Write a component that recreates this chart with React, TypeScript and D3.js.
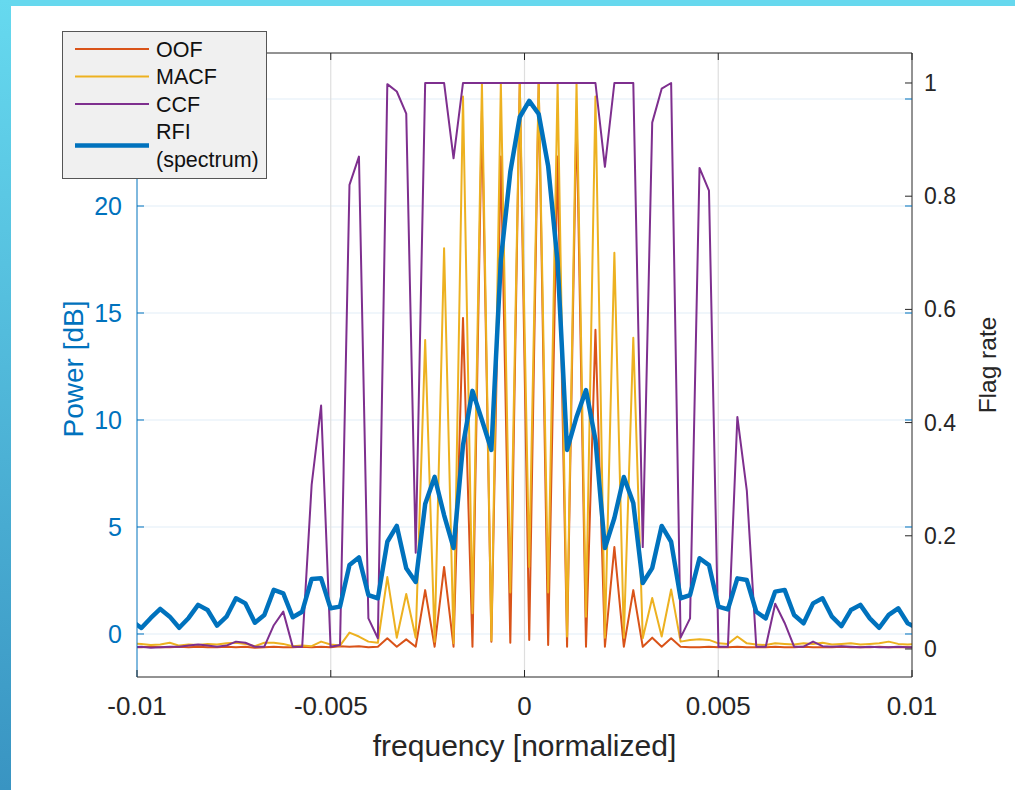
import React from 'react';
import * as d3 from 'd3';

// FFT bins (N = 4096), plotted at bin centres
const fftSize = 4096;
const bins = d3.range(-42, 42);
const freq = bins.map(k => (k + 0.5) / fftSize);

// RFI spectrum, dB (left axis)
const rfiDb = [
  0.61, 0.28, 0.75, 1.17, 0.81, 0.29, 0.75, 1.36, 1.12, 0.39, 0.81, 1.67, 1.43, 0.53,
  0.89, 2.06, 1.90, 0.78, 1.04, 2.57, 2.60, 1.20, 1.28, 3.22, 3.58, 1.82, 1.67, 4.31,
  5.05, 3.07, 2.43, 6.07, 7.34, 5.56, 4.02, 8.83, 11.36, 10.0, 8.60, 17.48, 21.59, 24.16,
  24.91, 24.30, 21.87, 17.38, 8.60, 10.14, 11.40, 9.07, 4.02, 5.42, 7.34, 6.12, 2.38, 3.08,
  5.05, 4.31, 1.67, 1.82, 3.54, 3.22, 1.28, 1.15, 2.60, 2.52, 1.04, 0.73, 1.98, 2.06,
  0.89, 0.50, 1.43, 1.67, 0.81, 0.37, 1.12, 1.36, 0.73, 0.29, 0.89, 1.20, 0.50, 0.28,
];

// flag rates (right axis)
const oofRate = [
  0.003, 0.003, 0.004, 0.003, 0.003, 0.004, 0.003, 0.004, 0.003, 0.003, 0.004, 0.003, 0.004, 0.002,
  0.003, 0.004, 0.003, 0.003, 0.004, 0.003, 0.004, 0.003, 0.005, 0.004, 0.005, 0.003, 0.004, 0.019,
  0.004, 0.017, 0.004, 0.104, 0.004, 0.145, 0.004, 0.585, 0.004, 0.95, 0.013, 0.87, 0.011, 1.0,
  0.016, 1.0, 0.007, 0.87, 0.004, 0.95, 0.004, 0.564, 0.004, 0.18, 0.004, 0.104, 0.004, 0.020,
  0.004, 0.019, 0.004, 0.003, 0.003, 0.004, 0.003, 0.003, 0.004, 0.003, 0.003, 0.003, 0.004, 0.003,
  0.003, 0.004, 0.003, 0.003, 0.003, 0.004, 0.003, 0.003, 0.003, 0.004, 0.003, 0.003, 0.003, 0.003,
];
const macfRate = [
  0.010, 0.009, 0.007, 0.008, 0.011, 0.006, 0.008, 0.007, 0.009, 0.008, 0.010, 0.011, 0.009, 0.005,
  0.011, 0.011, 0.009, 0.005, 0.006, 0.005, 0.013, 0.008, 0.006, 0.029, 0.022, 0.013, 0.011, 0.127,
  0.020, 0.097, 0.020, 0.546, 0.013, 0.708, 0.010, 0.976, 0.063, 1.0, 0.015, 1.0, 0.100, 1.0,
  0.145, 1.0, 0.100, 1.0, 0.022, 1.0, 0.057, 0.976, 0.020, 0.700, 0.020, 0.550, 0.019, 0.090,
  0.022, 0.105, 0.013, 0.016, 0.017, 0.016, 0.010, 0.009, 0.022, 0.010, 0.008, 0.007, 0.010, 0.009,
  0.008, 0.010, 0.009, 0.011, 0.008, 0.009, 0.010, 0.008, 0.009, 0.010, 0.013, 0.009, 0.008, 0.009,
];
const ccfRate = [
  0.003, 0.004, 0.002, 0.003, 0.004, 0.004, 0.006, 0.008, 0.006, 0.004, 0.006, 0.013, 0.011, 0.004,
  0.004, 0.042, 0.066, 0.004, 0.004, 0.29, 0.43, 0.004, 0.007, 0.82, 0.87, 0.054, 0.019, 0.998,
  0.985, 0.946, 0.17, 1.0, 1.0, 1.0, 0.867, 1.0, 1.0, 1.0, 1.0, 1.0, 1.0, 1.0,
  1.0, 1.0, 1.0, 1.0, 1.0, 1.0, 1.0, 1.0, 0.852, 1.0, 1.0, 1.0, 0.18, 0.93,
  0.99, 1.0, 0.02, 0.054, 0.85, 0.81, 0.004, 0.004, 0.41, 0.28, 0.004, 0.004, 0.08, 0.046,
  0.004, 0.004, 0.013, 0.005, 0.004, 0.005, 0.004, 0.003, 0.004, 0.003, 0.003, 0.004, 0.003, 0.003,
];

const xTicks = [-0.01, -0.005, 0, 0.005, 0.01];
const xTickLabels = ['-0.01', '-0.005', '0', '0.005', '0.01'];
const powerTicks = [0, 5, 10, 15, 20, 25];
const rateTicks = [0, 0.2, 0.4, 0.6, 0.8, 1];
const rateTickLabels = ['0', '0.2', '0.4', '0.6', '0.8', '1'];

const legendItems = [
  { name: ['OOF'], color: '#D95319', width: 2 },
  { name: ['MACF'], color: '#EDB120', width: 2 },
  { name: ['CCF'], color: '#7E2F8E', width: 2 },
  { name: ['RFI', '(spectrum)'], color: '#0072BD', width: 4.5 },
];

const font = "'Liberation Sans', Arial, Helvetica, sans-serif";
const blue = '#0072BD';
const dark = '#262626';

export default function App() {
  const W = 1015, H = 790;
  const m = { left: 137, right: 912, top: 53, bottom: 677 };

  const x = d3.scaleLinear().domain([-0.01, 0.01]).range([m.left, m.right]);
  const yL = d3.scaleLinear().domain([-2.01, 27.15]).range([m.bottom, m.top]);
  const yR = d3.scaleLinear().domain([-0.0495, 1.053]).range([m.bottom, m.top]);

  const lineL = d3.line<number>().x((_, i) => x(freq[i])).y(d => yL(d));
  const lineR = d3.line<number>().x((_, i) => x(freq[i])).y(d => yR(d));
  const tickLen = 7;

  return (
    <div style={{ position: 'absolute', left: 0, top: 0 }}>
      <svg width={W} height={H} style={{ display: 'block', background: '#fff' }} fontFamily={font}>
        <defs>
          <linearGradient id="edge" x1="0" y1="0" x2="0" y2="1">
            <stop offset="0" stopColor="#66d9ef" />
            <stop offset="1" stopColor="#3994c2" />
          </linearGradient>
          <clipPath id="plot">
            <rect x={m.left} y={m.top} width={m.right - m.left} height={m.bottom - m.top} />
          </clipPath>
        </defs>
        <rect x={0} y={0} width={W} height={6} fill="#66d8ee" />
        <rect x={0} y={0} width={11} height={H} fill="url(#edge)" />

        {/* grid */}
        {powerTicks.map(t => (
          <line key={'gy' + t} x1={m.left} x2={m.right} y1={yL(t)} y2={yL(t)} stroke="#e1edf7" strokeWidth={1.2} />
        ))}
        {xTicks.slice(1, -1).map(t => (
          <line key={'gx' + t} x1={x(t)} x2={x(t)} y1={m.top} y2={m.bottom} stroke="#dedede" strokeWidth={1.2} />
        ))}

        {/* series */}
        <g clipPath="url(#plot)" fill="none" strokeLinejoin="round">
          <path d={lineR(oofRate) || ''} stroke="#D95319" strokeWidth={2} />
          <path d={lineR(macfRate) || ''} stroke="#EDB120" strokeWidth={2} />
          <path d={lineR(ccfRate) || ''} stroke="#7E2F8E" strokeWidth={2} />
          <path d={lineL(rfiDb) || ''} stroke={blue} strokeWidth={4.5} />
        </g>

        {/* axes box */}
        <line x1={m.left} x2={m.right} y1={m.top} y2={m.top} stroke={dark} strokeWidth={1} />
        <line x1={m.left} x2={m.right} y1={m.bottom} y2={m.bottom} stroke={dark} strokeWidth={1} />
        <line x1={m.left} x2={m.left} y1={m.top} y2={m.bottom} stroke={blue} strokeWidth={1} />
        <line x1={m.right} x2={m.right} y1={m.top} y2={m.bottom} stroke={dark} strokeWidth={1} />

        {/* x ticks */}
        {xTicks.map((t, i) => (
          <g key={'xt' + t}>
            <line x1={x(t)} x2={x(t)} y1={m.bottom} y2={m.bottom - tickLen} stroke={dark} />
            <line x1={x(t)} x2={x(t)} y1={m.top} y2={m.top + tickLen} stroke={dark} />
            <text x={x(t)} y={m.bottom + 38} textAnchor="middle" fontSize={26} fill={dark}>{xTickLabels[i]}</text>
          </g>
        ))}

        {/* left ticks */}
        {powerTicks.map(t => (
          <g key={'yl' + t}>
            <line x1={m.left} x2={m.left + tickLen} y1={yL(t)} y2={yL(t)} stroke={blue} />
            <line x1={m.right} x2={m.right - tickLen} y1={yL(t)} y2={yL(t)} stroke={blue} />
            <text x={m.left - 15} y={yL(t)} dy="0.35em" textAnchor="end" fontSize={25} fill={blue}>{t}</text>
          </g>
        ))}

        {/* right ticks */}
        {rateTicks.map((t, i) => (
          <g key={'yr' + t}>
            <line x1={m.right} x2={m.right - tickLen} y1={yR(t)} y2={yR(t)} stroke={dark} />
            <text x={m.right + 12} y={yR(t)} dy="0.35em" textAnchor="start" fontSize={23} fill={dark}>{rateTickLabels[i]}</text>
          </g>
        ))}

        {/* axis labels */}
        <text x={(m.left + m.right) / 2} y={756} textAnchor="middle" fontSize={30} fill={dark}>frequency [normalized]</text>
        <text transform={`translate(83,${(m.top + m.bottom) / 2 + 4}) rotate(-90)`} textAnchor="middle" fontSize={28} fill={blue}>Power [dB]</text>
        <text transform={`translate(996,${(m.top + m.bottom) / 2}) rotate(-90)`} textAnchor="middle" fontSize={24.5} fill={dark}>Flag rate</text>

        {/* legend */}
        <g>
          <rect x={62.5} y={31.5} width={204} height={147} fill="#f0f0f0" stroke="#555" strokeWidth={1} />
          {legendItems.map((d, i) => {
            const cy = 49 + i * 27.5 + (d.name.length > 1 ? 14 : 0);
            return (
              <g key={d.name[0]}>
                <line x1={75} x2={149} y1={cy} y2={cy} stroke={d.color} strokeWidth={d.width} />
                {d.name.map((s, j) => (
                  <text key={s} x={156} y={cy + (j - (d.name.length - 1) / 2) * 28} dy="0.35em" fontSize={21.5} fill="#111">{s}</text>
                ))}
              </g>
            );
          })}
        </g>
      </svg>
    </div>
  );
}
